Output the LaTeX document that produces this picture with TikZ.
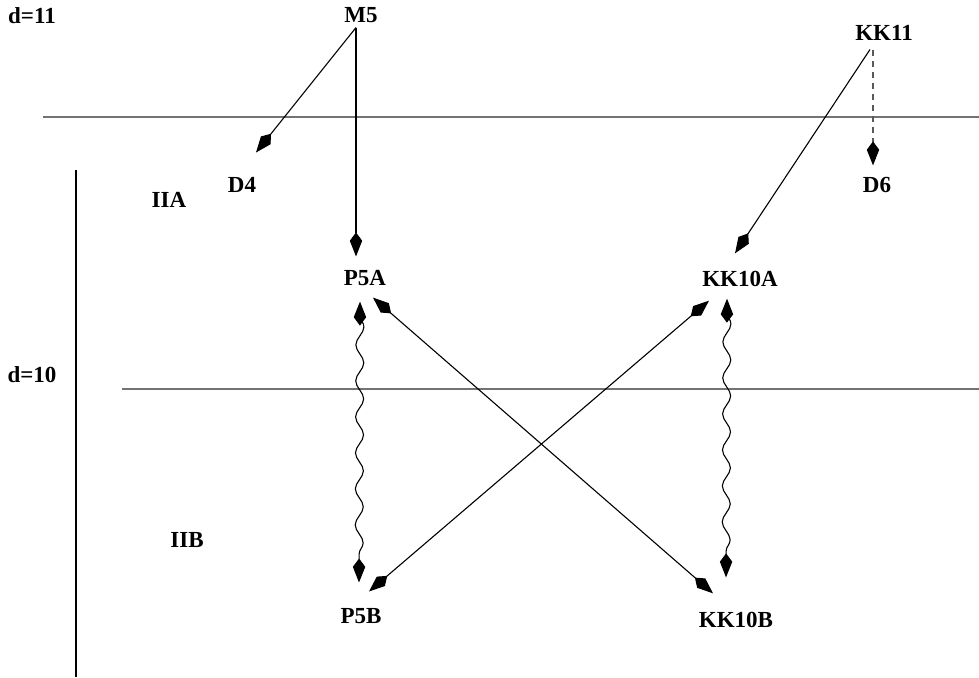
\documentclass[tikz,border=0pt]{standalone}
\usepackage{fontspec}
\setmainfont{Liberation Serif}
\usepackage{tikz}
\usetikzlibrary{arrows.meta, decorations.pathmorphing}
\tikzset{
  %% -- Labels ------------------------------------------------------------
  nom/.style        = {inner sep=0pt, font=\fontsize{11.5}{13}\selectfont\bfseries},
  %%
  %% -- Rules -------------------------------------------------------------
  niveau/.style     = {draw=black!55, line width=0.6pt},
  bord/.style       = {draw=black, line width=1.3pt},
  %%
  %% -- Arrows ------------------------------------------------------------
  pointe/.tip       = {Kite[length=12pt, width=6.2pt, inset=4.2pt, color=black]},
  fleche/.style     = {-pointe, draw=black, line width=0.55pt},
  flecheDouble/.style = {pointe-pointe, draw=black, line width=0.55pt},
  flecheOndulee/.style = {flecheDouble, decorate,
                       decoration={snake, amplitude=2pt, segment length=18pt,
                                   pre length=7pt, post length=7pt}},
  flecheCoupee/.style = {fleche, draw=black!65, dash pattern=on 3pt off 2.5pt},
}
\begin{document}
\begin{tikzpicture}[x=0.5pt, y=-0.5pt]
\useasboundingbox (0,0) rectangle (979,677);

% levels
\draw[niveau] (43,117) -- (979,117);
\draw[niveau] (122,389) -- (979,389);
\draw[bord] (76,170) -- (76,677);

\node[nom] (d11) at (32,16) {d=11};
\node[nom] (d10) at (32,375) {d=10};
\node[nom] (IIA) at (169,200) {IIA};
\node[nom] (IIB) at (187,540) {IIB};

\node[nom] (M5) at (361,15) {M5};
\node[nom] (KK11) at (884,33) {KK11};
\node[nom] (D4) at (242,185) {D4};
\node[nom] (D6) at (877,185) {D6};
\node[nom] (P5A) at (365,278) {P5A};
\node[nom] (KK10A) at (740,279) {KK10A};
\node[nom] (P5B) at (361,616) {P5B};
\node[nom] (KK10B) at (736,620) {KK10B};

\draw[fleche] ([xshift=-2.5pt, yshift=-2.25pt]M5.south) -- ([xshift=7pt, yshift=12.25pt]D4.north);
\draw[fleche] ([xshift=-2.5pt, yshift=-2.25pt]M5.south) -- ([xshift=-4.5pt, yshift=6.75pt]P5A.north);
\draw[fleche] ([xshift=-7pt, yshift=-4.25pt]KK11.south) -- ([xshift=-2.5pt, yshift=8.75pt]KK10A.north);
\draw[flecheCoupee] ([xshift=-5.5pt, yshift=-4.25pt]KK11.south) -- ([xshift=-2pt, yshift=5.75pt]D6.north);

\draw[flecheDouble] ([xshift=4pt, yshift=-5.75pt]P5A.south) -- ([xshift=-11.5pt, yshift=9.25pt]KK10B.north);
\draw[flecheDouble] ([xshift=-15.5pt, yshift=-6.75pt]KK10A.south) -- ([xshift=4pt, yshift=8.25pt]P5B.north);

\draw[flecheOndulee] ([xshift=-2.5pt, yshift=-7.75pt]P5A.south) -- ([xshift=-1pt, yshift=12.75pt]P5B.north);
\draw[flecheOndulee] ([xshift=-6.5pt, yshift=-5.75pt]KK10A.south) -- ([xshift=-5pt, yshift=17.25pt]KK10B.north);

\end{tikzpicture}
\end{document}
